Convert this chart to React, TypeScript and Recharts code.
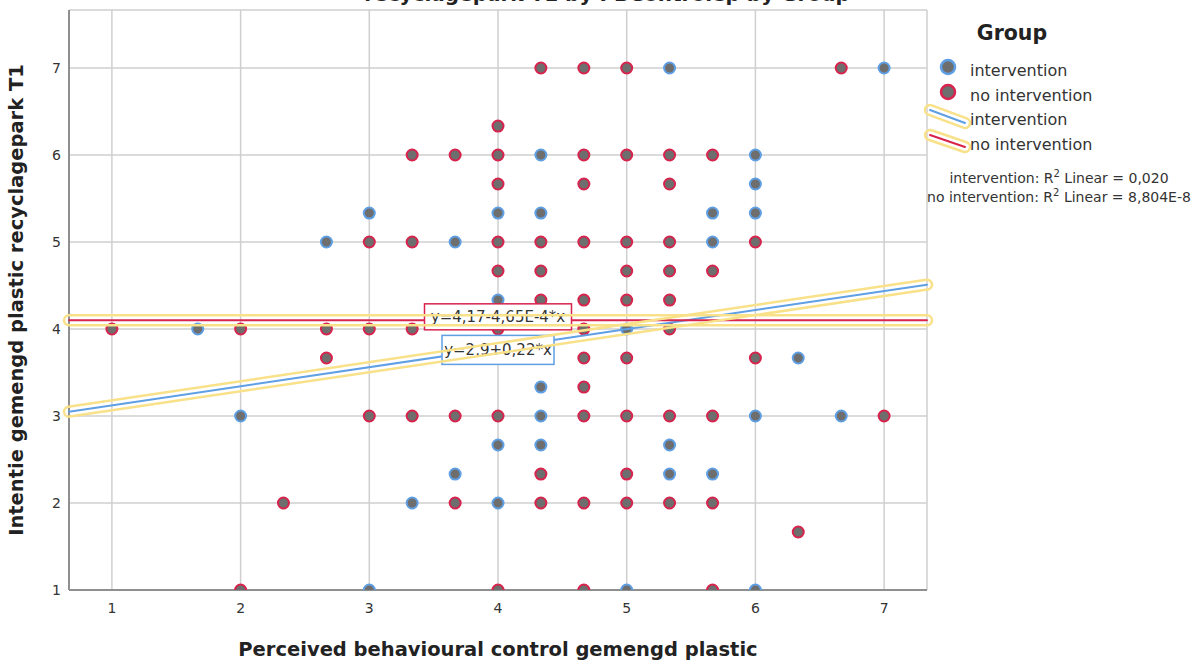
import React from 'react';
import { ScatterChart, Scatter, XAxis, YAxis, CartesianGrid, ReferenceLine } from 'recharts';

const xTicks = [1, 2, 3, 4, 5, 6, 7];
const yTicks = [1, 2, 3, 4, 5, 6, 7];

const interventionPoints = [
  { x: 5.333, y: 7 }, { x: 7, y: 7 },
  { x: 4.333, y: 6 }, { x: 6, y: 6 },
  { x: 6, y: 5.667 },
  { x: 3, y: 5.333 }, { x: 4, y: 5.333 }, { x: 4.333, y: 5.333 }, { x: 5.667, y: 5.333 }, { x: 6, y: 5.333 },
  { x: 2.667, y: 5 }, { x: 3.667, y: 5 }, { x: 5.667, y: 5 },
  { x: 4, y: 4.333 },
  { x: 1.667, y: 4 }, { x: 5, y: 4 },
  { x: 6.333, y: 3.667 },
  { x: 4.333, y: 3.333 },
  { x: 2, y: 3 }, { x: 4.333, y: 3 }, { x: 6, y: 3 }, { x: 6.667, y: 3 },
  { x: 4, y: 2.667 }, { x: 4.333, y: 2.667 }, { x: 5.333, y: 2.667 },
  { x: 3.667, y: 2.333 }, { x: 5.333, y: 2.333 }, { x: 5.667, y: 2.333 },
  { x: 3.333, y: 2 }, { x: 4, y: 2 },
  { x: 3, y: 1 }, { x: 5, y: 1 }, { x: 6, y: 1 },
];

const noInterventionPoints = [
  { x: 4.333, y: 7 }, { x: 4.667, y: 7 }, { x: 5, y: 7 }, { x: 6.667, y: 7 },
  { x: 4, y: 6.333 },
  { x: 3.333, y: 6 }, { x: 3.667, y: 6 }, { x: 4, y: 6 }, { x: 4.667, y: 6 }, { x: 5, y: 6 }, { x: 5.333, y: 6 }, { x: 5.667, y: 6 },
  { x: 4, y: 5.667 }, { x: 4.667, y: 5.667 }, { x: 5.333, y: 5.667 },
  { x: 3, y: 5 }, { x: 3.333, y: 5 }, { x: 4, y: 5 }, { x: 4.333, y: 5 }, { x: 4.667, y: 5 }, { x: 5, y: 5 }, { x: 5.333, y: 5 }, { x: 6, y: 5 },
  { x: 4, y: 4.667 }, { x: 4.333, y: 4.667 }, { x: 5, y: 4.667 }, { x: 5.333, y: 4.667 }, { x: 5.667, y: 4.667 },
  { x: 4.333, y: 4.333 }, { x: 4.667, y: 4.333 }, { x: 5, y: 4.333 }, { x: 5.333, y: 4.333 },
  { x: 1, y: 4 }, { x: 2, y: 4 }, { x: 2.667, y: 4 }, { x: 3, y: 4 }, { x: 3.333, y: 4 }, { x: 4, y: 4 }, { x: 4.667, y: 4 }, { x: 5.333, y: 4 },
  { x: 2.667, y: 3.667 }, { x: 4.667, y: 3.667 }, { x: 5, y: 3.667 }, { x: 6, y: 3.667 },
  { x: 4.667, y: 3.333 },
  { x: 3, y: 3 }, { x: 3.333, y: 3 }, { x: 3.667, y: 3 }, { x: 4, y: 3 }, { x: 4.667, y: 3 }, { x: 5, y: 3 }, { x: 5.333, y: 3 }, { x: 5.667, y: 3 }, { x: 7, y: 3 },
  { x: 4.333, y: 2.333 }, { x: 5, y: 2.333 },
  { x: 2.333, y: 2 }, { x: 3.667, y: 2 }, { x: 4.333, y: 2 }, { x: 4.667, y: 2 }, { x: 5, y: 2 }, { x: 5.333, y: 2 }, { x: 5.667, y: 2 },
  { x: 6.333, y: 1.667 },
  { x: 2, y: 1 }, { x: 4, y: 1 }, { x: 4.667, y: 1 }, { x: 5.667, y: 1 },
];

const interventionFit = [{ x: 0.667, y: 3.05 }, { x: 7.333, y: 4.51 }];
const noInterventionFit = [{ x: 0.667, y: 4.1 }, { x: 7.333, y: 4.1 }];
const interventionEquation = 'y=2,9+0,22*x';
const noInterventionEquation = 'y=4,17-4,65E-4*x';
const interventionLabelAt = [{ x: 4, y: 3.76 }];
const noInterventionLabelAt = [{ x: 4, y: 4.14 }];

const groupNames = ['intervention', 'no intervention'];
const r2Texts = [
  ['intervention: R', ' Linear = 0,020'],
  ['no intervention: R', ' Linear = 8,804E-8'],
];

const FONT = 'DejaVu Sans';
const BLUE = '#5f9fe3';
const RED = '#d8234d';
const FILL = '#6e6e6e';
const HALO = '#f9e189';

const makeDot = (stroke: string) => (props: any) => (
  <circle cx={props.cx} cy={props.cy} r={5.5} fill={FILL} stroke={stroke} strokeWidth={2} />
);

const makeBox = (text: string, stroke: string, w: number, h: number) => (props: any) => (
  <g>
    <rect x={props.cx - w / 2} y={props.cy - h / 2} width={w} height={h} fill="#fff" stroke={stroke} strokeWidth={1.5} />
    <text x={props.cx} y={props.cy + 5} textAnchor="middle" fontFamily={FONT} fontSize={15} fill="#333">{text}</text>
  </g>
);

// capsule-shaped outline around a segment (selection halo)
const capsulePath = (x1: number, y1: number, x2: number, y2: number, r: number) => {
  const len = Math.hypot(x2 - x1, y2 - y1) || 1;
  const dx = (x2 - x1) / len;
  const dy = (y2 - y1) / len;
  const nx = -dy * r;
  const ny = dx * r;
  return `M${x1 + nx},${y1 + ny} L${x2 + nx},${y2 + ny} A${r},${r} 0 0 0 ${x2 - nx},${y2 - ny} L${x1 - nx},${y1 - ny} A${r},${r} 0 0 0 ${x1 + nx},${y1 + ny} Z`;
};

const HaloShape = (props: any) => (
  <path d={capsulePath(props.x1, props.y1, props.x2, props.y2, 5)} fill="none" stroke={HALO} strokeWidth={2.5} />
);

const fitLines = (fit: { x: number; y: number }[], color: string, key: string) => [
  <ReferenceLine key={key + 'c'} segment={fit} stroke={color} strokeWidth={2} strokeLinecap="round" ifOverflow="visible" zIndex={620} />,
  <ReferenceLine key={key + 'h'} segment={fit} stroke={HALO} ifOverflow="visible" zIndex={700} shape={HaloShape} />,
];

const LegendHaloLine = ({ x1, y1, x2, y2, color }: any) => (
  <g>
    <line x1={x1} y1={y1} x2={x2} y2={y2} stroke={color} strokeWidth={2} strokeLinecap="round" />
    <path d={capsulePath(x1, y1, x2, y2, 5)} fill="none" stroke={HALO} strokeWidth={2.5} />
  </g>
);

export default function App() {
  const tickStyle = { fill: '#333', fontSize: 14, fontFamily: FONT };
  return (
    <div style={{ position: 'absolute', left: 0, top: 0, width: 1202, height: 664, background: '#fff' }}>
      <ScatterChart width={1202} height={664} margin={{ top: 10, right: 275, bottom: 0, left: 0 }}>
        <CartesianGrid stroke="#cfcfcf" strokeWidth={1.5} />
        <XAxis
          dataKey="x"
          type="number"
          domain={[0.6667, 7.3333]}
          ticks={xTicks}
          allowDataOverflow
          height={74}
          tickLine={false}
          tickMargin={7}
          tick={tickStyle}
          axisLine={{ stroke: '#8f8f8f', strokeWidth: 2 }}
        />
        <YAxis
          dataKey="y"
          type="number"
          domain={[1, 7.667]}
          ticks={yTicks}
          allowDataOverflow
          width={69}
          tickLine={false}
          tickMargin={2}
          tick={tickStyle}
          axisLine={{ stroke: '#8f8f8f', strokeWidth: 2 }}
        />
        <Scatter name={groupNames[0]} data={interventionPoints} shape={makeDot(BLUE)} isAnimationActive={false} />
        <Scatter name={groupNames[1]} data={noInterventionPoints} shape={makeDot(RED)} isAnimationActive={false} />
        <Scatter name="fit label no intervention" data={noInterventionLabelAt} shape={makeBox(noInterventionEquation, RED, 147, 26)} isAnimationActive={false} legendType="none" zIndex={650} />
        <Scatter name="fit label intervention" data={interventionLabelAt} shape={makeBox(interventionEquation, BLUE, 112, 29)} isAnimationActive={false} legendType="none" zIndex={650} />
        {fitLines(interventionFit, BLUE, 'iv')}
        {fitLines(noInterventionFit, RED, 'ni')}
      </ScatterChart>
      <svg width={1202} height={664} style={{ position: 'absolute', left: 0, top: 0, pointerEvents: 'none' }}>
        <text x={607} y={0.5} textAnchor="middle" fontFamily={FONT} fontWeight="bold" fontSize={20} fill="#222">
          recyclagepark T1 by PBControlep by Group
        </text>
        <text transform="translate(23,300) rotate(-90)" textAnchor="middle" fontFamily={FONT} fontWeight="bold" fontSize={19.5} fill="#222">
          Intentie gemengd plastic recyclagepark T1
        </text>
        <text x={498} y={656} textAnchor="middle" fontFamily={FONT} fontWeight="bold" fontSize={19.5} fill="#222">
          Perceived behavioural control gemengd plastic
        </text>
        <text x={1012} y={40} textAnchor="middle" fontFamily={FONT} fontWeight="bold" fontSize={20.5} fill="#222">Group</text>
        <circle cx={948} cy={67} r={7} fill={FILL} stroke={BLUE} strokeWidth={2.5} />
        <circle cx={948} cy={92} r={7} fill={FILL} stroke={RED} strokeWidth={2.5} />
        <text x={970} y={76} fontFamily={FONT} fontSize={16} fill="#333">{groupNames[0]}</text>
        <text x={970} y={100.5} fontFamily={FONT} fontSize={16} fill="#333">{groupNames[1]}</text>
        <LegendHaloLine x1={930} y1={110} x2={965} y2={123} color={BLUE} />
        <LegendHaloLine x1={930} y1={135} x2={965} y2={147} color={RED} />
        <text x={970} y={125} fontFamily={FONT} fontSize={16} fill="#333">{groupNames[0]}</text>
        <text x={970} y={149.5} fontFamily={FONT} fontSize={16} fill="#333">{groupNames[1]}</text>
        {r2Texts.map((t, i) => (
          <text key={i} x={1059} y={183 + i * 18.5} textAnchor="middle" fontFamily={FONT} fontSize={14} fill="#333">
            {t[0]}
            <tspan fontSize={10} dy={-6}>2</tspan>
            <tspan dy={6}>{t[1]}</tspan>
          </text>
        ))}
      </svg>
    </div>
  );
}
